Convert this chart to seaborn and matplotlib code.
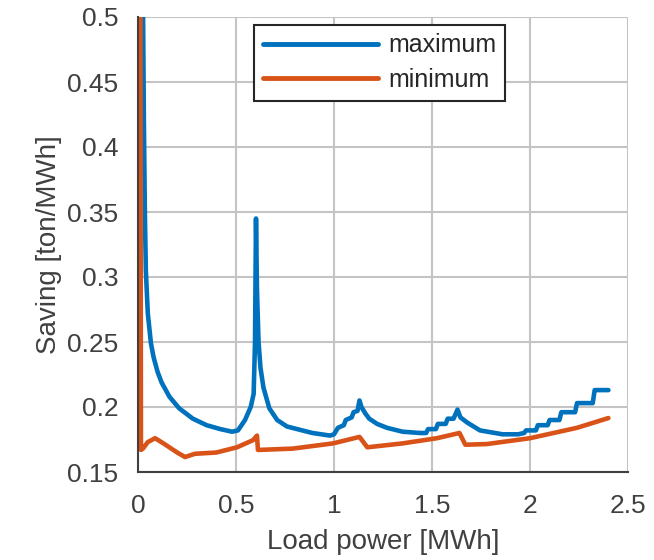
import matplotlib
matplotlib.use("Agg")
import matplotlib.pyplot as plt
import seaborn as sns
import pandas as pd

# Data
max_x = [0.025, 0.03, 0.035, 0.04, 0.05, 0.066, 0.08, 0.10, 0.12, 0.16, 0.21, 0.28, 0.35, 0.42, 0.48,
         0.51, 0.546, 0.575, 0.59, 0.597, 0.602, 0.607, 0.615, 0.625, 0.64, 0.67, 0.71, 0.76, 0.89, 0.98,
         1.0, 1.02, 1.05, 1.06, 1.09, 1.1, 1.12, 1.13, 1.14, 1.16, 1.18, 1.22, 1.27, 1.35, 1.44, 1.47,
         1.48, 1.52, 1.53, 1.57, 1.58, 1.61, 1.63, 1.645, 1.68, 1.745, 1.86, 1.94, 1.97,
         1.98, 2.03, 2.04, 2.09, 2.10, 2.15, 2.16, 2.23, 2.24, 2.32, 2.33, 2.40]
max_y = [0.52, 0.42, 0.35, 0.305, 0.272, 0.249, 0.238, 0.227, 0.219, 0.208, 0.199, 0.191, 0.186, 0.183, 0.181,
         0.182, 0.19, 0.20, 0.21, 0.25, 0.345, 0.29, 0.25, 0.23, 0.215, 0.199, 0.19, 0.185, 0.18, 0.178,
         0.179, 0.184, 0.186, 0.19, 0.192, 0.196, 0.197, 0.205, 0.20, 0.195, 0.191, 0.187, 0.184, 0.181, 0.18, 0.18,
         0.183, 0.183, 0.187, 0.187, 0.191, 0.191, 0.198, 0.192, 0.188, 0.182, 0.179, 0.179, 0.18,
         0.182, 0.182, 0.186, 0.186, 0.19, 0.19, 0.196, 0.196, 0.203, 0.203, 0.213, 0.213]

min_x = [0.012, 0.015, 0.025, 0.05, 0.087, 0.13, 0.2, 0.24, 0.29, 0.4, 0.505, 0.587, 0.607, 0.612,
         0.62, 0.79, 0.995, 1.13, 1.17, 1.35, 1.525, 1.64, 1.67, 1.78, 2.0, 2.24, 2.40]
min_y = [0.52, 0.167, 0.168, 0.173, 0.176, 0.172, 0.165, 0.1615, 0.164, 0.165, 0.169, 0.1745, 0.178, 0.167,
         0.167, 0.168, 0.172, 0.177, 0.169, 0.172, 0.176, 0.18, 0.171, 0.1715, 0.176, 0.184, 0.1915]

series_names = ["maximum", "minimum"]
x_ticks = [0, 0.5, 1, 1.5, 2, 2.5]
y_ticks = [0.15, 0.2, 0.25, 0.3, 0.35, 0.4, 0.45, 0.5]

df = pd.concat([
    pd.DataFrame({"x": max_x, "y": max_y, "series": series_names[0]}),
    pd.DataFrame({"x": min_x, "y": min_y, "series": series_names[1]}),
], ignore_index=True)

sns.set_theme(style="white")
plt.rcParams['font.family'] = ['Liberation Sans', 'DejaVu Sans']

fig = plt.figure(figsize=(6.54, 5.6), dpi=100)
ax = fig.add_axes([138/654, 88/560, 490/654, 455/560])

sns.lineplot(data=df, x="x", y="y", hue="series", estimator=None, sort=False,
             palette={"maximum": "#0072BD", "minimum": "#D95319"}, linewidth=3.3, ax=ax)

ax.set_xlim(0, 2.5)
ax.set_ylim(0.15, 0.5)
ax.set_xticks(x_ticks)
ax.set_xticklabels(["0", "0.5", "1", "1.5", "2", "2.5"])
ax.set_yticks(y_ticks)
ax.set_yticklabels(["0.15", "0.2", "0.25", "0.3", "0.35", "0.4", "0.45", "0.5"])
ax.grid(True, color="#c4c4c4", linewidth=1.5)
ax.set_axisbelow(True)
for s in ["top", "right"]:
    ax.spines[s].set_visible(False)
for s in ["left", "bottom"]:
    ax.spines[s].set_color("#404040")
    ax.spines[s].set_linewidth(1.5)
ax.tick_params(axis="y", labelsize=19, colors="#404040", length=0, pad=14)
ax.tick_params(axis="x", labelsize=19, colors="#404040", length=0, pad=16)
ax.set_xlabel("Load power [MWh]", fontsize=20, color="#404040", labelpad=8)
ax.set_ylabel("Saving [ton/MWh]", fontsize=20, color="#404040", labelpad=4)

leg = ax.legend(loc="upper left", bbox_to_anchor=(0.237, 0.983), fontsize=18,
                handlelength=4.6, frameon=True, fancybox=False, borderpad=0.35,
                labelspacing=0.42, handletextpad=0.4, borderaxespad=0)
leg.get_frame().set_edgecolor("#262626")
leg.get_frame().set_linewidth(1.5)
leg.get_frame().set_alpha(1)
for line in leg.get_lines():
    line.set_linewidth(3.5)
for t in leg.get_texts():
    t.set_color("#262626")

fig.savefig("out.png", dpi=100)
